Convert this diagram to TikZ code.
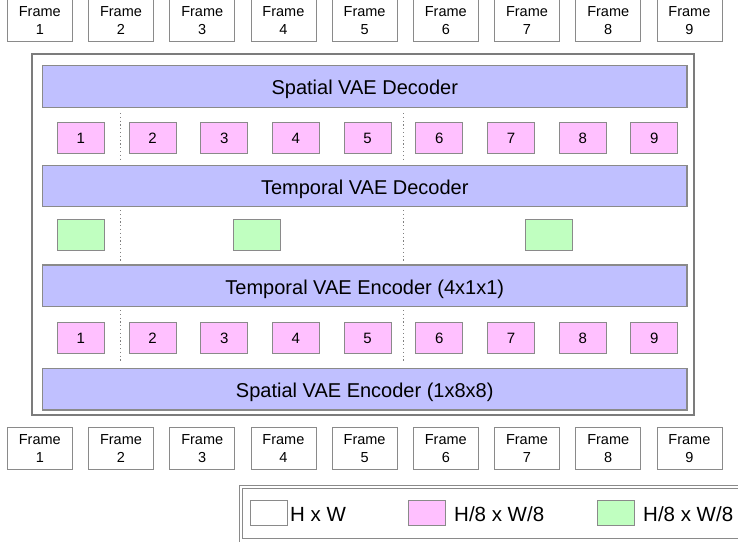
\documentclass[tikz,border=0pt]{standalone}
\usepackage{fontspec}
\setmainfont{Liberation Sans}
\definecolor{barc}{HTML}{C0C0FF}
\definecolor{pinkc}{HTML}{FFC0FF}
\definecolor{greenc}{HTML}{C0FFC0}
\definecolor{edgec}{HTML}{8A8A8A}
\begin{document}
\begin{tikzpicture}[x=1pt,y=-1pt,
  framebox/.style={draw=edgec, line width=0.8pt, fill=white, minimum width=65pt, minimum height=42pt, inner sep=0pt, align=center, font=\fontsize{14.5}{18}\selectfont},
  barbox/.style={draw=edgec, line width=1.3pt, fill=barc, minimum width=644.5pt, inner sep=0pt, text height=16.3pt, text depth=0pt, font=\fontsize{20}{24}\selectfont},
  latbox/.style={draw=edgec, line width=1pt, fill=pinkc, minimum width=47pt, minimum height=31pt, inner sep=0pt, text height=10.7pt, text depth=0pt, font=\fontsize{15}{18}\selectfont},
  tempbox/.style={draw=edgec, line width=1pt, fill=greenc, minimum width=47.4pt, minimum height=31pt, inner sep=0pt},
  legbox/.style={draw=edgec, line width=1pt, minimum width=37pt, minimum height=25.3pt, inner sep=0pt},
  legtext/.style={anchor=west, inner sep=0pt, font=\fontsize{20.5}{24}\selectfont},
  sep/.style={draw=gray, line width=0.9pt, dash pattern=on 1.2pt off 2.6pt},
  outer/.style={draw=edgec!90!black, line width=2pt}
]
\useasboundingbox (0,0) rectangle (738,541);

% frames
\foreach \i in {1,...,9} {
  \node[framebox] (ft\i) at ({39.8+81.2*(\i-1)},20.5) {Frame\\\i};
  \node[framebox] (fb\i) at ({39.8+81.2*(\i-1)},448.3) {Frame\\\i};
}

% outer container
\draw[outer] (32.3,54) rectangle (694.3,415);

% separators
\foreach \xx in {120.7,403} {
  \draw[sep] (\xx,113) -- (\xx,160);
  \draw[sep] (\xx,210) -- (\xx,262);
  \draw[sep] (\xx,310) -- (\xx,362);
}

% bars
\node[barbox, minimum height=41.6pt] (sdec) at (364.75,86.5) {Spatial VAE Decoder};
\node[barbox, minimum height=41pt] (tdec) at (364.75,186.2) {Temporal VAE Decoder};
\node[barbox, minimum height=41.7pt] (tenc) at (364.75,285.85) {Temporal VAE Encoder (4x1x1)};
\node[barbox, minimum height=41.7pt] (senc) at (364.75,389.15) {Spatial VAE Encoder (1x8x8)};

% latent boxes
\foreach \i in {1,...,9} {
  \node[latbox] (la\i) at ({80.8+71.7*(\i-1)},137.8) {\i};
  \node[latbox] (lb\i) at ({80.8+71.7*(\i-1)},337.8) {\i};
}

% temporal latents
\node[tempbox] (g1) at (81,234.5) {};
\node[tempbox] (g2) at (256.8,234.5) {};
\node[tempbox] (g3) at (549,234.5) {};

% legend
\draw[draw=edgec, line width=0.8pt] (239.3,485) rectangle (760,560);
\draw[draw=edgec, line width=0.8pt] (242.7,488.3) rectangle (760,538.3);
\node[legbox, fill=white] (lw) at (269.2,513.3) {};
\node[legtext] (lwt) at (290,514) {H x W};
\node[legbox, fill=pinkc] (lp) at (426.7,513.3) {};
\node[legtext] (lpt) at (454,514) {H/8 x W/8};
\node[legbox, fill=greenc] (lg) at (615.8,513.3) {};
\node[legtext] (lgt) at (643,514) {H/8 x W/8};
\end{tikzpicture}
\end{document}
